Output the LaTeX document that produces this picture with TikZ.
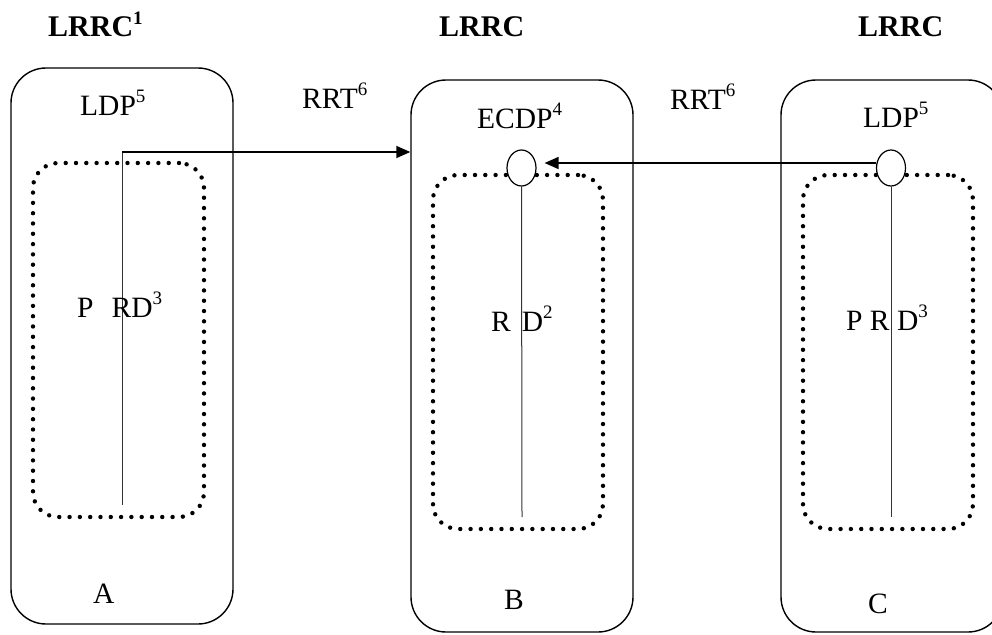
\documentclass[tikz,border=0pt]{standalone}
\usepackage{fontspec}
\setmainfont{Liberation Serif}
\usetikzlibrary{shapes.geometric,arrows.meta}
\newcommand{\supx}[1]{\raisebox{0.42em}{\fontsize{19}{20}\selectfont #1}}
\begin{document}
\begin{tikzpicture}[x=1pt,y=-1pt,
  outerbox/.style={draw=black,line width=1.4pt,rounded corners=35pt,minimum width=222pt,inner sep=0pt},
  dotbox/.style={draw=black,line width=4.4pt,line cap=round,dash pattern=on 0pt off 10.3pt,rounded corners=25pt,inner sep=0pt},
  portal/.style={ellipse,draw=black,fill=white,line width=1.2pt,minimum width=29pt,minimum height=36pt,inner sep=0pt},
  thin/.style={draw=black!80,line width=1pt},
  arr/.style={draw=black,line width=1.6pt,-{Triangle[length=14pt,width=12pt]}},
  lab/.style={inner sep=0pt,anchor=base west,font=\fontsize{29.5}{33}\selectfont},
  blab/.style={inner sep=0pt,anchor=base west,font=\fontsize{30}{34}\selectfont\bfseries}
]
\useasboundingbox (0,0) rectangle (992,634);
\clip (0,0) rectangle (992,634);
% outer boxes
\node[outerbox,minimum height=556pt] (boxA) at (122,346) {};
\node[outerbox,minimum height=552pt] (boxB) at (522,356) {};
\node[outerbox,minimum height=552pt] (boxC) at (892,356) {};
% dotted inner boxes
\node[dotbox,minimum width=171pt,minimum height=354pt] (dotA) at (118.5,340) {};
\node[dotbox,minimum width=170pt,minimum height=354pt] (dotB) at (518,352) {};
\node[dotbox,minimum width=170pt,minimum height=354pt] (dotC) at (888,352) {};
% vertical lines
\coordinate (aTop) at (122,152);
\coordinate (aBot) at (122,505);
\draw[thin] (aTop) -- (aBot);
\coordinate (bBot) at (522,517);
\coordinate (cBot) at (891,517);
% portals
\node[portal] (ellB) at (521.5,168) {};
\node[portal] (ellC) at (891,168) {};
\draw[thin] (ellB.south) -- (bBot);
\draw[thin] (ellC.south) -- (cBot);
% arrows
\draw[arr] (aTop) -- (aTop -| boxB.west);
\draw[arr,shorten >=8pt] ([yshift=5pt]ellC.west) -- ([yshift=5pt]ellB.east);
% labels
\node[blab] (lrrc1) at (48,37) {LRRC\supx{\bfseries 1}};
\node[blab] (lrrc2) at (439,37) {LRRC};
\node[blab] (lrrc3) at (858,37) {LRRC};
\node[lab] (ldpA) at (80,115) {LDP\supx{5}};
\node[lab] (rrt1) at (302,108) {RRT\supx{6}};
\node[lab] (ecdp) at (477,128) {ECDP\supx{4}};
\node[lab] (rrt2) at (670,109) {RRT\supx{6}};
\node[lab] (ldpC) at (863,127) {LDP\supx{5}};
\node[lab] (prdA) at (77,317) {P\hspace{18pt}RD\supx{3}};
\node[lab] (rdB) at (491,331) {R\hspace{11pt}D\supx{2}};
\node[lab] (prdC) at (846,330) {P R D\supx{3}};
\node[lab] (la) at (93,603) {A};
\node[lab] (lb) at (504,609) {B};
\node[lab] (lc) at (868,613) {C};
\end{tikzpicture}
\end{document}
